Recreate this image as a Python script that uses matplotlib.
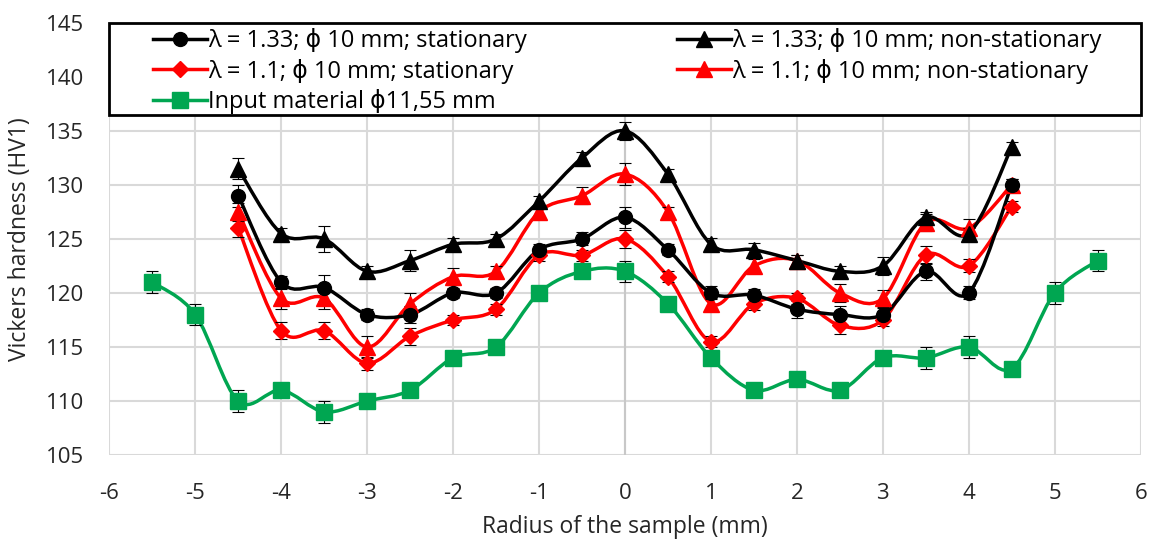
import numpy as np
import matplotlib.pyplot as plt
from matplotlib.path import Path
from matplotlib.patches import PathPatch, Rectangle
from matplotlib.lines import Line2D

plt.rcParams['font.family'] = ['Open Sans', 'DejaVu Sans']
plt.rcParams['axes.unicode_minus'] = False

r_treated = [-4.5, -4, -3.5, -3, -2.5, -2, -1.5, -1, -0.5, 0, 0.5, 1, 1.5, 2, 2.5, 3, 3.5, 4, 4.5]
r_input = [-5.5, -5, -4.5, -4, -3.5, -3, -2.5, -2, -1.5, -1, -0.5, 0, 0.5, 1, 1.5, 2, 2.5, 3, 3.5, 4, 4.5, 5, 5.5]

hv_133_stat = [129, 121, 120.5, 118, 118, 120, 120, 124, 125, 127, 124, 120, 119.8, 118.5, 118, 118, 122, 120, 130]
hv_133_non = [131.5, 125.5, 125, 122, 123, 124.5, 125, 128.5, 132.5, 135, 131, 124.5, 124, 123, 122, 122.5, 127, 125.5, 133.5]
hv_11_stat = [126, 116.5, 116.5, 113.5, 116, 117.5, 118.5, 123.5, 123.5, 125, 121.5, 115.5, 119, 119.5, 117, 117.5, 123.5, 122.5, 128]
hv_11_non = [127.5, 119.5, 119.5, 115, 119, 121.5, 122, 127.5, 129, 131, 127.5, 119, 122.5, 123, 120, 119.5, 126.5, 126, 130]
hv_input = [121, 118, 110, 111, 109, 110, 111, 114, 115, 120, 122, 122, 119, 114, 111, 112, 111, 114, 114, 115, 113, 120, 123]

err_133_stat = [1, 0.6, 1.2, 0.5, 0.8, 0.5, 0.5, 0.5, 0.6, 1, 0.5, 0.6, 0.6, 0.8, 0.8, 0.6, 0.8, 0.6, 0.5]
err_133_non = [1, 0.5, 1.2, 0.5, 1, 0.6, 0.5, 0.5, 0.5, 0.8, 0.5, 0.6, 0.6, 0.5, 0.5, 0.8, 0.5, 0.5, 0.5]
err_11_stat = [0.8, 0.8, 0.8, 0.6, 0.8, 0.5, 0.5, 0.5, 0.5, 0.8, 0.5, 0.5, 0.6, 0.5, 0.8, 0.6, 0.8, 0.6, 0.5]
err_11_non = [0.8, 1, 1, 1, 1, 0.8, 0.5, 0.5, 0.8, 1, 0.5, 0.5, 0.6, 0.5, 0.8, 0.8, 0.8, 0.8, 0.5]
err_input = [1, 1, 1, 0.5, 1, 0.5, 0.5, 0.5, 0.5, 0.5, 0.5, 1, 0.5, 0.5, 0.5, 0.5, 0.5, 0.5, 1, 1, 0.5, 1, 1]

labels = ['λ = 1.33; ϕ 10 mm; stationary', 'λ = 1.1; ϕ 10 mm; stationary',
          'Input material ϕ11,55 mm',
          'λ = 1.33; ϕ 10 mm; non-stationary', 'λ = 1.1; ϕ 10 mm; non-stationary']


def smooth_path(x, y):
    # Excel-style smoothed line: cardinal spline as cubic Bezier segments
    x = np.asarray(x, float)
    y = np.asarray(y, float)
    n = len(x)
    verts = [(x[0], y[0])]
    codes = [Path.MOVETO]
    t = 1 / 6
    for i in range(n - 1):
        x0, y0 = (x[i - 1], y[i - 1]) if i > 0 else (x[i], y[i])
        x3, y3 = (x[i + 2], y[i + 2]) if i + 2 < n else (x[i + 1], y[i + 1])
        c1 = (x[i] + (x[i + 1] - x0) * t, y[i] + (y[i + 1] - y0) * t)
        c2 = (x[i + 1] - (x3 - x[i]) * t, y[i + 1] - (y3 - y[i]) * t)
        verts += [c1, c2, (x[i + 1], y[i + 1])]
        codes += [Path.CURVE4] * 3
    return Path(verts, codes)


fig, ax = plt.subplots(figsize=(11.51, 5.43), dpi=100)
fig.subplots_adjust(left=0.095, right=0.991, top=0.958, bottom=0.162)

series = [
    (r_treated, hv_133_stat, err_133_stat, 'black', 'o', 10),
    (r_treated, hv_11_stat, err_11_stat, 'red', 'D', 8),
    (r_input, hv_input, err_input, '#00a651', 's', 11.5),
    (r_treated, hv_133_non, err_133_non, 'black', '^', 12),
    (r_treated, hv_11_non, err_11_non, 'red', '^', 12),
]
draw_order = [4, 1, 2, 0, 3]
handles = [None] * 5
for k in draw_order:
    x, y, e, c, m, ms = series[k]
    ax.add_patch(PathPatch(smooth_path(x, y), fill=False, edgecolor=c, lw=2.5, zorder=3))
    ax.errorbar(x, y, yerr=e, fmt='none', ecolor='black', elinewidth=0.8, capsize=4, capthick=0.8, zorder=4)
    ax.plot(x, y, ls='none', marker=m, ms=ms, color=c, zorder=5)
    handles[k] = Line2D([], [], color=c, lw=2.5, marker=m, ms=ms)

ax.set_xlim(-6, 6)
ax.set_ylim(105, 145)
ax.set_xticks(np.arange(-6, 7, 1))
ax.set_yticks(np.arange(105, 146, 5))
ax.grid(True, color='#d9d9d9', lw=1.5)
ax.set_axisbelow(True)
for s in ax.spines.values():
    s.set_visible(False)
ax.axvline(0, color='#c8c8c8', lw=1.5, zorder=1)
ax.tick_params(axis='y', length=0, labelsize=16, colors='#262626', pad=18)
ax.tick_params(axis='x', length=0, labelsize=16, colors='#262626', pad=20)
ax.set_xlabel('Radius of the sample (mm)', fontsize=16.5, color='#262626', labelpad=8)
ax.set_ylabel('Vickers hardness (HV1)', fontsize=16.5, color='#262626', labelpad=10)

# legend box across the top of the plot area
ax.add_patch(Rectangle((0, 0.787), 1, 0.213, transform=ax.transAxes, facecolor='white',
                       edgecolor='black', lw=2, zorder=9, clip_on=False))
leg = ax.legend(handles, labels, ncol=2, loc='upper left', bbox_to_anchor=(0.042, 0.987, 0.92, 0),
                mode='expand', fontsize=17, frameon=False, handlelength=2.3,
                handletextpad=0.05, borderpad=0, labelspacing=0.22, columnspacing=1, borderaxespad=0)
leg.set_zorder(10)

fig.savefig('out.png', dpi=100)
